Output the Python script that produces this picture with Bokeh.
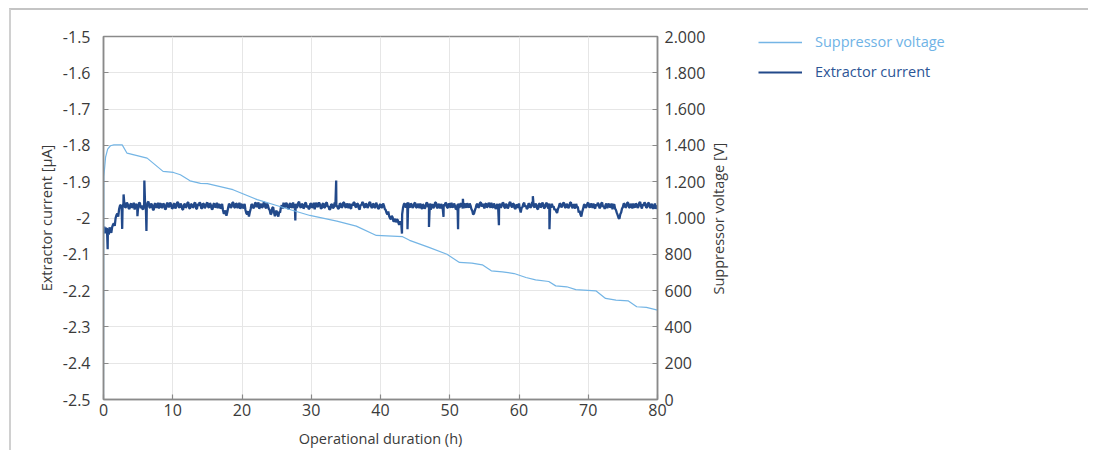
import math
from bokeh.plotting import figure
from bokeh.layouts import row
from bokeh.models import (Range1d, LinearAxis, Legend, LegendItem, SingleIntervalTicker,
                          CustomJSTickFormatter, ColumnDataSource, Title)
from bokeh.embed import file_html
from bokeh.resources import INLINE
import numpy as np

# ---------------- data ----------------
# Suppressor voltage [V] (right axis)
voltage_h = [0, 0.05, 0.3, 0.6, 1.0, 1.5, 2.7, 3.4, 5.0, 6.3, 8.6, 10.1, 11.1, 12.5, 14.0,
             15.0, 18.7, 22.2, 25.0, 26.9, 29.8, 33.7, 36.5, 39.4, 43.2, 44.2, 47.0, 49.6,
             51.4, 53.2, 54.7, 56.0, 57.6, 59.3, 61.0, 62.4, 64.3, 65.3, 66.9, 68.2, 71.1,
             72.5, 74.0, 75.8, 77.0, 78.4, 80.0]
voltage_v = [0, 1229, 1335, 1380, 1398, 1403, 1403, 1357, 1342, 1330, 1257, 1251, 1238, 1205, 1191,
             1189, 1156, 1101, 1069, 1047, 1014, 983, 955, 904, 897, 877, 838, 800,
             755, 751, 742, 709, 703, 694, 672, 659, 650, 626, 621, 605, 599,
             557, 548, 543, 511, 508, 492]

# Extractor current [µA] (left axis), read every 0.25 h (0 ... 80 h)
current_step_h = 0.25
current_a = [
    -2.035, -2.042, -2.028, -2.046, -2.032, -2.025, -2.015, -2.000, -1.988, -1.976,
    -1.964, -1.972, -1.958, -1.970, -1.962, -1.975, -1.960, -1.968, -1.977, -1.963,
    -1.970, -1.958, -1.966, -1.976, -1.961, -1.969, -1.955, -1.972, -1.964, -1.978,
    -1.960, -1.967, -1.974, -1.959, -1.970, -1.963, -1.976, -1.958, -1.968, -1.962,
    -1.973, -1.960, -1.969, -1.956, -1.971, -1.965, -1.977, -1.961, -1.968, -1.957,
    -1.974, -1.963, -1.970, -1.958, -1.975, -1.966, -1.960, -1.972, -1.962, -1.969,
    -1.957, -1.971, -1.964, -1.976, -1.960, -1.968, -1.973, -1.962, -1.970, -1.978,
    -1.986, -1.994, -1.972, -1.963, -1.969, -1.958, -1.972, -1.961, -1.967, -1.975,
    -1.962, -1.970, -1.978, -1.990, -1.996, -1.975, -1.964, -1.971, -1.958, -1.967,
    -1.975, -1.961, -1.969, -1.957, -1.973, -1.966, -1.978, -1.988, -1.970, -1.995,
    -1.980, -1.996, -1.985, -1.965, -1.958, -1.970, -1.962, -1.975, -1.960, -1.968,
    -1.973, -1.961, -1.969, -1.955, -1.972, -1.963, -1.970, -1.959, -1.966, -1.974,
    -1.961, -1.969, -1.976, -1.958, -1.967, -1.962, -1.974, -1.960, -1.970, -1.957,
    -1.968, -1.975, -1.963, -1.971, -1.959, -1.966, -1.973, -1.961, -1.969, -1.958,
    -1.972, -1.964, -1.960, -1.975, -1.966, -1.958, -1.970, -1.962, -1.977, -1.965,
    -1.959, -1.971, -1.963, -1.968, -1.956, -1.973, -1.961, -1.970, -1.964, -1.975,
    -1.962, -1.970, -1.966, -1.978, -1.990, -1.995, -2.003, -1.998, -2.008, -2.012,
    -2.006, -2.018, -2.015, -1.972, -1.960, -1.968, -1.957, -1.971, -1.963, -1.969,
    -1.958, -1.972, -1.964, -1.960, -1.975, -1.966, -1.970, -1.959, -1.968, -1.977,
    -1.962, -1.969, -1.957, -1.973, -1.965, -1.961, -1.976, -1.967, -1.960, -1.971,
    -1.963, -1.958, -1.970, -1.966, -1.975, -1.960, -1.968, -1.962, -1.973, -1.964,
    -1.959, -1.971, -1.966, -1.980, -1.988, -1.972, -1.961, -1.969, -1.957, -1.966,
    -1.974, -1.960, -1.968, -1.963, -1.958, -1.972, -1.965, -1.970, -1.976, -1.961,
    -1.967, -1.959, -1.973, -1.964, -1.969, -1.956, -1.971, -1.962, -1.975, -1.966,
    -1.960, -1.985, -1.970, -1.958, -1.966, -1.973, -1.962, -1.969, -1.955, -1.971,
    -1.964, -1.976, -1.960, -1.968, -1.963, -1.970, -1.958, -1.974, -1.966, -1.961,
    -1.968, -1.975, -1.986, -1.970, -1.962, -1.967, -1.959, -1.972, -1.964, -1.969,
    -1.957, -1.973, -1.966, -1.961, -1.970, -1.980, -1.996, -1.975, -1.963, -1.969,
    -1.958, -1.971, -1.965, -1.960, -1.974, -1.967, -1.962, -1.970, -1.957, -1.968,
    -1.964, -1.973, -1.961, -1.969, -1.976, -1.962, -1.978, -1.992, -2.002, -1.985,
    -1.970, -1.962, -1.968, -1.958, -1.972, -1.965, -1.960, -1.971, -1.963, -1.969,
    -1.956, -1.974, -1.966, -1.961, -1.970, -1.958, -1.973, -1.964, -1.969, -1.975,
    -1.966,
]
# readings half-way between the above (0.125 h, 0.375 h, ... 79.875 h)
current_b = [
    -2.024, -2.030, -2.040, -2.026, -2.041, -2.018, -2.022, -1.992, -1.996, -1.966,
    -1.974, -1.960, -1.971, -1.957, -1.973, -1.963, -1.972, -1.958, -1.962, -1.974,
    -1.959, -1.973, -1.975, -1.962, -1.974, -1.957, -1.970, -1.960, -1.976, -1.962,
    -1.972, -1.958, -1.963, -1.972, -1.960, -1.975, -1.961, -1.970, -1.957, -1.974,
    -1.962, -1.974, -1.958, -1.970, -1.960, -1.976, -1.963, -1.972, -1.958, -1.973,
    -1.961, -1.971, -1.959, -1.974, -1.961, -1.957, -1.974, -1.960, -1.973, -1.960,
    -1.970, -1.959, -1.975, -1.962, -1.971, -1.958, -1.964, -1.974, -1.961, -1.988,
    -1.979, -1.984, -1.961, -1.972, -1.957, -1.970, -1.960, -1.973, -1.958, -1.963,
    -1.973, -1.961, -1.987, -1.981, -1.984, -1.962, -1.973, -1.959, -1.970, -1.957,
    -1.964, -1.972, -1.958, -1.971, -1.960, -1.975, -1.990, -1.972, -1.985, -1.983,
    -1.991, -1.983, -1.970, -1.974, -1.969, -1.958, -1.973, -1.961, -1.972, -1.957,
    -1.963, -1.972, -1.958, -1.968, -1.961, -1.974, -1.958, -1.971, -1.975, -1.960,
    -1.972, -1.958, -1.963, -1.970, -1.957, -1.973, -1.961, -1.972, -1.959, -1.969,
    -1.977, -1.962, -1.973, -1.958, -1.970, -1.975, -1.960, -1.972, -1.957, -1.968,
    -1.960, -1.973, -1.971, -1.961, -1.957, -1.969, -1.960, -1.974, -1.963, -1.956,
    -1.970, -1.960, -1.972, -1.958, -1.967, -1.962, -1.972, -1.958, -1.973, -1.964,
    -1.972, -1.960, -1.975, -1.986, -1.982, -2.001, -1.994, -2.010, -2.002, -2.004,
    -2.016, -2.009, -1.990, -1.962, -1.971, -1.958, -1.969, -1.960, -1.972, -1.960,
    -1.970, -1.961, -1.973, -1.971, -1.962, -1.974, -1.958, -1.970, -1.960, -1.966,
    -1.973, -1.958, -1.970, -1.961, -1.974, -1.970, -1.962, -1.958, -1.972, -1.960,
    -1.972, -1.969, -1.960, -1.976, -1.963, -1.971, -1.959, -1.974, -1.960, -1.972,
    -1.968, -1.960, -1.975, -1.990, -1.979, -1.963, -1.972, -1.958, -1.968, -1.961,
    -1.962, -1.971, -1.958, -1.972, -1.969, -1.960, -1.975, -1.961, -1.966, -1.972,
    -1.958, -1.970, -1.961, -1.974, -1.958, -1.967, -1.960, -1.973, -1.963, -1.972,
    -1.976, -1.972, -1.961, -1.969, -1.975, -1.960, -1.972, -1.958, -1.968, -1.960,
    -1.974, -1.962, -1.971, -1.957, -1.974, -1.961, -1.969, -1.960, -1.972, -1.970,
    -1.978, -1.982, -1.975, -1.960, -1.971, -1.958, -1.970, -1.961, -1.973, -1.958,
    -1.968, -1.962, -1.974, -1.969, -1.985, -1.990, -1.983, -1.964, -1.972, -1.960,
    -1.969, -1.960, -1.972, -1.970, -1.962, -1.958, -1.973, -1.960, -1.969, -1.975,
    -1.960, -1.963, -1.971, -1.960, -1.966, -1.974, -1.986, -2.000, -1.990, -1.974,
    -1.960, -1.972, -1.958, -1.970, -1.961, -1.974, -1.969, -1.960, -1.972, -1.958,
    -1.968, -1.962, -1.957, -1.972, -1.960, -1.969, -1.961, -1.975, -1.960, -1.969,
]
# isolated spikes in the current trace
spike_h = [0.6, 2.7, 2.9, 4.9, 5.9, 6.2, 27.7, 33.6, 43.1, 43.9, 47.0, 49.1, 51.2, 51.9,
           57.1, 62.0, 64.4]
spike_a = [-2.086, -2.030, -1.935, -1.995, -1.897, -2.036, -2.007, -1.897, -2.043, -2.031,
           -2.025, -1.997, -2.031, -1.947, -2.020, -1.940, -2.031]

x_ticks = [0, 10, 20, 30, 40, 50, 60, 70, 80]

# ---------------- build series ----------------
cur_h = ([i * current_step_h for i in range(len(current_a))]
         + [(i + 0.5) * current_step_h for i in range(len(current_b))] + spike_h)
cur_v = list(current_a) + list(current_b) + spike_a
order = np.argsort(cur_h, kind="stable")
cur_h = [cur_h[i] for i in order]
cur_v = [cur_v[i] for i in order]

FONT = "Open Sans"
AX = "#8a8a8a"
TXT = "#3a3a3a"
LIGHT = "#74b5e5"
DARK = "#22498a"

p = figure(width=697, height=440, output_backend="svg", toolbar_location=None,
           x_range=Range1d(0, 80), y_range=Range1d(-2.5, -1.5),
           min_border_left=92, min_border_top=26, min_border_right=49, min_border_bottom=49)
p.extra_y_ranges = {"v": Range1d(0, 2000)}

p.outline_line_color = AX
p.outline_line_width = 1.5
p.background_fill_color = "white"
p.border_fill_color = "white"

left_axis = p.left[0]
bottom_axis = p.below[0]
left_axis.ticker = SingleIntervalTicker(interval=0.1)
left_axis.formatter = CustomJSTickFormatter(code="return parseFloat(tick.toFixed(1)).toString();")
left_axis.axis_label = "Extractor current [µA]"
bottom_axis.ticker = x_ticks
bottom_axis.axis_label = "Operational duration (h)"

rax = LinearAxis(y_range_name="v", ticker=SingleIntervalTicker(interval=200),
                 formatter=CustomJSTickFormatter(code="""
                     const t = Math.round(tick);
                     if (t >= 1000) { return Math.floor(t/1000) + '.' + String(t % 1000).padStart(3, '0'); }
                     return t.toString();"""))
p.add_layout(rax, "right")

for ax in [bottom_axis, left_axis, rax]:
    ax.axis_line_color = AX
    ax.axis_line_width = 1.5
    ax.major_tick_line_color = AX
    ax.major_tick_line_width = 1.2
    ax.major_tick_in = 5
    ax.major_tick_out = 0
    ax.minor_tick_line_color = None
    ax.major_label_text_font = FONT
    ax.major_label_text_font_size = "16px"
    ax.major_label_text_color = TXT
    ax.axis_label_text_font = FONT
    ax.axis_label_text_font_size = "14.5px"
    ax.axis_label_text_color = TXT
    ax.axis_label_text_font_style = "normal"

left_axis.major_label_standoff = 9
left_axis.axis_label_standoff = 4
rax.major_label_standoff = 3
bottom_axis.major_label_standoff = 4
bottom_axis.axis_label_standoff = 10

p.xgrid.grid_line_color = "#e6e6e6"
p.ygrid.grid_line_color = "#e6e6e6"

# lines
src_c = ColumnDataSource(dict(h=cur_h, a=cur_v))
src_v = ColumnDataSource(dict(h=voltage_h, v=voltage_v))
r_cur = p.line("h", "a", source=src_c, line_color=DARK, line_width=2.3)
r_vol = p.line("h", "v", source=src_v, y_range_name="v", line_color=LIGHT, line_width=1.2)

# ---------------- side panel: right-axis title + legend ----------------
lf = figure(width=380, height=440, output_backend="svg", toolbar_location=None,
            x_axis_type=None, y_axis_type=None, x_range=Range1d(-20, -19), y_range=Range1d(-20, -19),
            min_border=0, outline_line_color=None)
lf.grid.visible = False
free_frame = True
try:
    lf.frame_align = False
    p.frame_align = False
except Exception:
    free_frame = False

# axis title of the right (voltage) axis, reading bottom-to-top
lf.add_layout(Title(text="Suppressor voltage [V]", align="left", vertical_align="top",
                    offset=156 if free_frame else 105,
                    standoff=0, text_font=FONT, text_font_size="14.5px", text_font_style="normal",
                    text_color=TXT), "left")

lv = lf.line("h", "v", source=src_v, line_color=LIGHT, line_width=1.6)
lc = lf.line("h", "a", source=src_c, line_color=DARK, line_width=2)

def make_legend(item, color, loc):
    return Legend(items=[item], location=loc, padding=0, margin=0,
                  border_line_color=None, background_fill_alpha=0,
                  glyph_width=44, glyph_height=16, label_height=16, label_standoff=13,
                  label_text_font=FONT, label_text_font_size="14.5px", label_text_color=color)

loc1, loc2 = ((29, 399), (29, 369)) if free_frame else ((29, 347), (29, 320))
lf.add_layout(make_legend(LegendItem(label="Suppressor voltage", renderers=[lv]), "#6fb3e6", loc1))
lf.add_layout(make_legend(LegendItem(label="Extractor current", renderers=[lc]), "#2c5596", loc2))

layout = row(p, lf, spacing=0)
layout.styles = {"margin-left": "9px", "margin-top": "8px",
                 "border-top": "2px solid #c4c4c4", "border-left": "2px solid #d0d0d0"}

open("out.html", "w").write(file_html(layout, INLINE))
